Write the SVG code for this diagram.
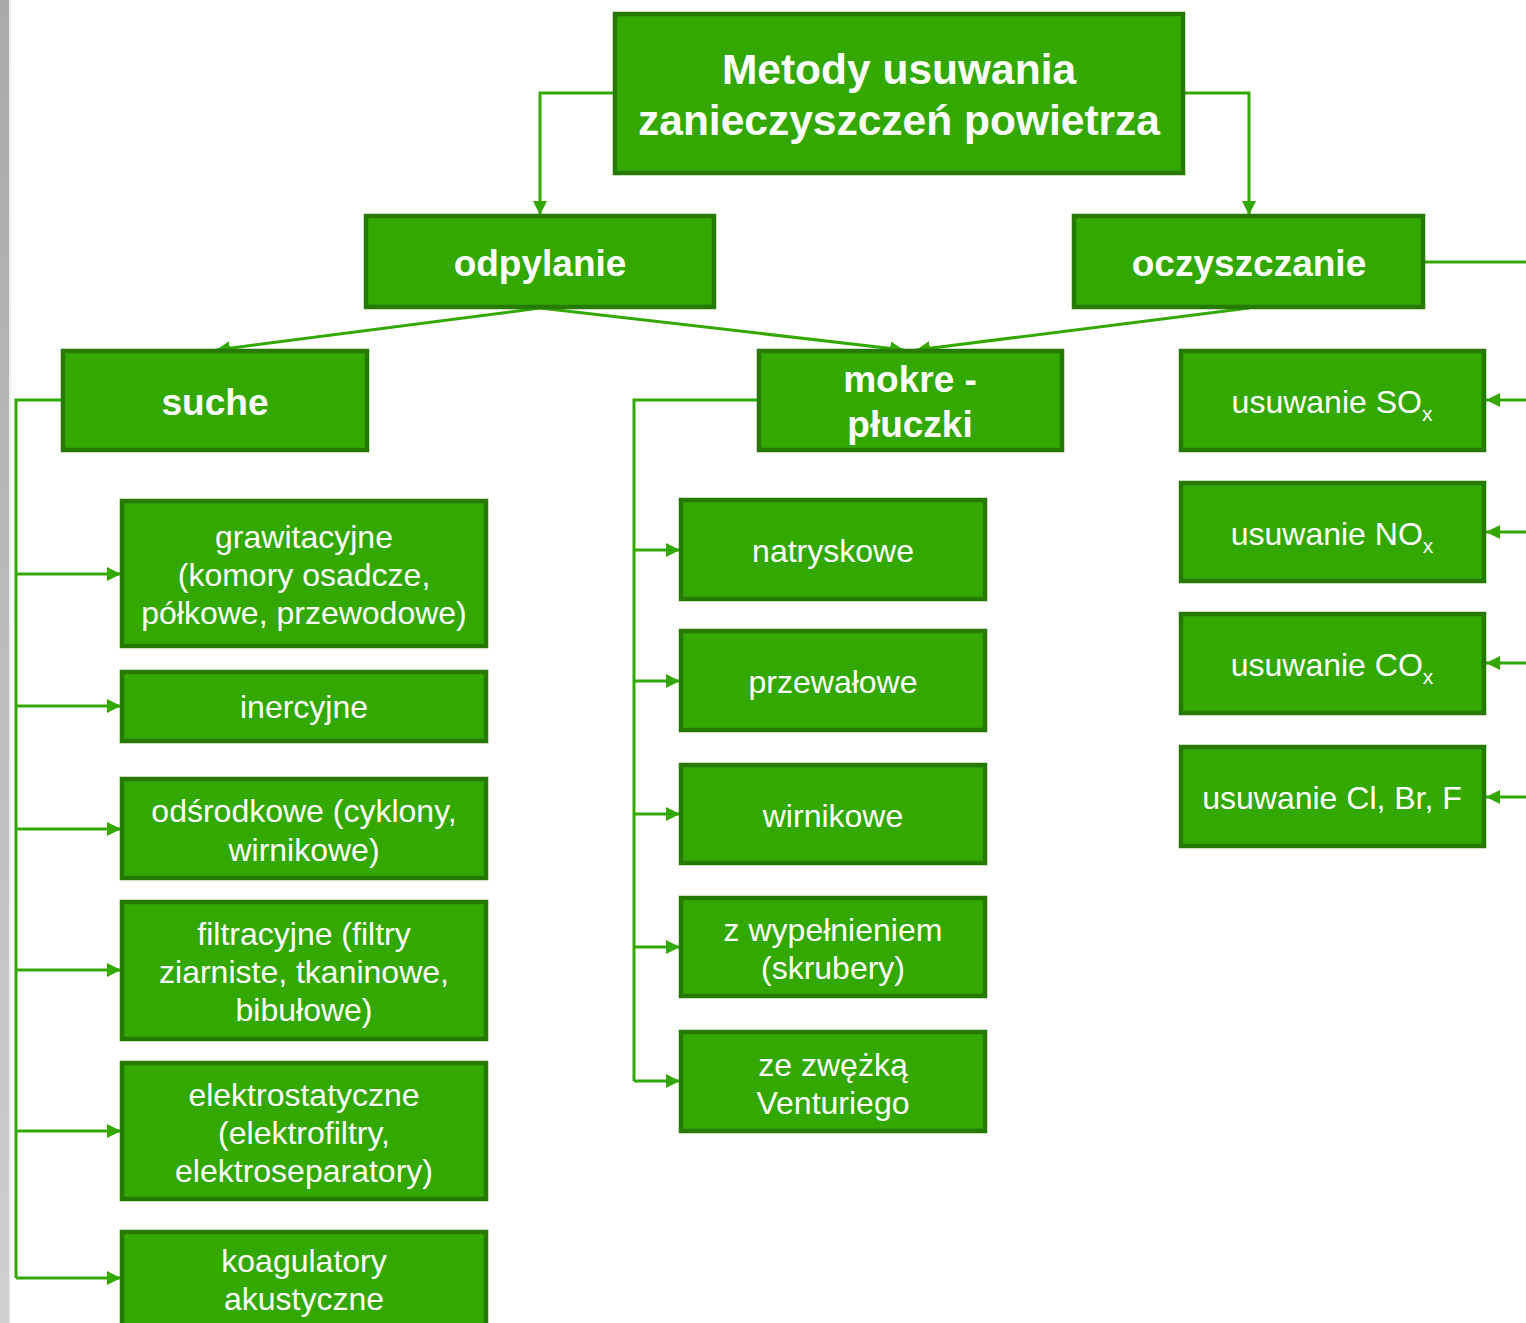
<svg xmlns="http://www.w3.org/2000/svg" width="1526" height="1323" viewBox="0 0 1526 1323">
  <defs>
    <linearGradient id="edge" x1="0" y1="0" x2="0" y2="1">
      <stop offset="0" stop-color="#a9a9a9"/>
      <stop offset="1" stop-color="#cfcfcf"/>
    </linearGradient>
    <marker id="arr" viewBox="0 0 10 10" refX="10" refY="5" markerWidth="14" markerHeight="14" markerUnits="userSpaceOnUse" orient="auto">
      <path d="M0,0 L10,5 L0,10 Z" fill="#33a800"/>
    </marker>
    <style>
      .box { fill: #33a800; stroke: #267a00; stroke-width: 4.5; }
      .t { fill: #ffffff; font-family: "Liberation Sans", Arial, sans-serif; font-size: 32px; text-anchor: middle; }
      .b { font-weight: bold; font-size: 37px; }
      .h { font-weight: bold; font-size: 42.5px; }
      .c { fill: none; stroke: #33a800; stroke-width: 3; }
      .ca { fill: none; stroke: #33a800; stroke-width: 3; marker-end: url(#arr); }
    </style>
  </defs>

  <rect width="1526" height="1323" fill="#ffffff"/>
  <rect x="0" y="0" width="9" height="1323" fill="url(#edge)"/>
  <rect x="9" y="0" width="2" height="1323" fill="#eeeeee"/>

  <!-- connectors -->
  <g id="connectors">
    <polyline class="ca" points="614,93 540,93 540,215"/>
    <polyline class="ca" points="1184,93 1249,93 1249,215"/>
    <polyline class="ca" points="540,308 216,350"/>
    <polyline class="ca" points="540,308 904,350"/>
    <polyline class="ca" points="1249,308 916,350"/>
    <line class="c" x1="1424" y1="262" x2="1526" y2="262"/>
    <line class="ca" x1="1526" y1="400" x2="1486" y2="400"/>
    <line class="ca" x1="1526" y1="532" x2="1486" y2="532"/>
    <line class="ca" x1="1526" y1="663" x2="1486" y2="663"/>
    <line class="ca" x1="1526" y1="797" x2="1486" y2="797"/>
    <polyline class="c" points="62,400 16,400 16,1278"/>
    <line class="ca" x1="16" y1="574" x2="121" y2="574"/>
    <line class="ca" x1="16" y1="706" x2="121" y2="706"/>
    <line class="ca" x1="16" y1="829" x2="121" y2="829"/>
    <line class="ca" x1="16" y1="970" x2="121" y2="970"/>
    <line class="ca" x1="16" y1="1131" x2="121" y2="1131"/>
    <line class="ca" x1="16" y1="1278" x2="121" y2="1278"/>
    <polyline class="c" points="758,400 634,400 634,1081"/>
    <line class="ca" x1="634" y1="550" x2="680" y2="550"/>
    <line class="ca" x1="634" y1="681" x2="680" y2="681"/>
    <line class="ca" x1="634" y1="814" x2="680" y2="814"/>
    <line class="ca" x1="634" y1="947" x2="680" y2="947"/>
    <line class="ca" x1="634" y1="1081" x2="680" y2="1081"/>
  </g>

  <!-- top -->
  <g id="root">
    <rect class="box" x="615" y="14" width="568" height="159"/>
    <text class="t h" x="899" y="84">Metody usuwania</text>
    <text class="t h" x="899" y="135">zanieczyszczeń powietrza</text>
  </g>
  <g id="odpylanie">
    <rect class="box" x="366" y="216" width="348" height="91"/>
    <text class="t b" x="540" y="276">odpylanie</text>
  </g>
  <g id="oczyszczanie">
    <rect class="box" x="1074" y="216" width="349" height="91"/>
    <text class="t b" x="1249" y="276">oczyszczanie</text>
  </g>

  <!-- second level -->
  <g id="suche">
    <rect class="box" x="63" y="351" width="304" height="99"/>
    <text class="t b" x="215" y="415">suche</text>
  </g>
  <g id="mokre">
    <rect class="box" x="759" y="351" width="303" height="99"/>
    <text class="t b" x="910" y="392">mokre -</text>
    <text class="t b" x="910" y="437">płuczki</text>
  </g>

  <!-- gas cleaning -->
  <g id="sox">
    <rect class="box" x="1181" y="351" width="303" height="99"/>
    <text class="t" x="1332" y="413">usuwanie SO<tspan font-size="21" dy="8">x</tspan></text>
  </g>
  <g id="nox">
    <rect class="box" x="1181" y="483" width="303" height="98"/>
    <text class="t" x="1332" y="545">usuwanie NO<tspan font-size="21" dy="8">x</tspan></text>
  </g>
  <g id="cox">
    <rect class="box" x="1181" y="614" width="303" height="99"/>
    <text class="t" x="1332" y="676">usuwanie CO<tspan font-size="21" dy="8">x</tspan></text>
  </g>
  <g id="halogens">
    <rect class="box" x="1181" y="747" width="303" height="99"/>
    <text class="t" x="1332" y="809">usuwanie Cl, Br, F</text>
  </g>

  <!-- dry methods -->
  <g id="grawitacyjne">
    <rect class="box" x="122" y="501" width="364" height="145"/>
    <text class="t" x="304" y="548">grawitacyjne</text>
    <text class="t" x="304" y="586">(komory osadcze,</text>
    <text class="t" x="304" y="624">półkowe, przewodowe)</text>
  </g>
  <g id="inercyjne">
    <rect class="box" x="122" y="672" width="364" height="69"/>
    <text class="t" x="304" y="718">inercyjne</text>
  </g>
  <g id="odsrodkowe">
    <rect class="box" x="122" y="779" width="364" height="99"/>
    <text class="t" x="304" y="822">odśrodkowe (cyklony,</text>
    <text class="t" x="304" y="861">wirnikowe)</text>
  </g>
  <g id="filtracyjne">
    <rect class="box" x="122" y="902" width="364" height="137"/>
    <text class="t" x="304" y="945">filtracyjne (filtry</text>
    <text class="t" x="304" y="983">ziarniste, tkaninowe,</text>
    <text class="t" x="304" y="1021">bibułowe)</text>
  </g>
  <g id="elektrostatyczne">
    <rect class="box" x="122" y="1063" width="364" height="136"/>
    <text class="t" x="304" y="1106">elektrostatyczne</text>
    <text class="t" x="304" y="1144">(elektrofiltry,</text>
    <text class="t" x="304" y="1182">elektroseparatory)</text>
  </g>
  <g id="koagulatory">
    <rect class="box" x="122" y="1232" width="364" height="100"/>
    <text class="t" x="304" y="1272">koagulatory</text>
    <text class="t" x="304" y="1310">akustyczne</text>
  </g>

  <!-- wet scrubbers -->
  <g id="natryskowe">
    <rect class="box" x="681" y="500" width="304" height="99"/>
    <text class="t" x="833" y="562">natryskowe</text>
  </g>
  <g id="przewalowe">
    <rect class="box" x="681" y="631" width="304" height="99"/>
    <text class="t" x="833" y="693">przewałowe</text>
  </g>
  <g id="wirnikowe">
    <rect class="box" x="681" y="765" width="304" height="98"/>
    <text class="t" x="833" y="827">wirnikowe</text>
  </g>
  <g id="wypelnienie">
    <rect class="box" x="681" y="898" width="304" height="98"/>
    <text class="t" x="833" y="941">z wypełnieniem</text>
    <text class="t" x="833" y="979">(skrubery)</text>
  </g>
  <g id="venturi">
    <rect class="box" x="681" y="1032" width="304" height="99"/>
    <text class="t" x="833" y="1076">ze zwężką</text>
    <text class="t" x="833" y="1114">Venturiego</text>
  </g>
</svg>
